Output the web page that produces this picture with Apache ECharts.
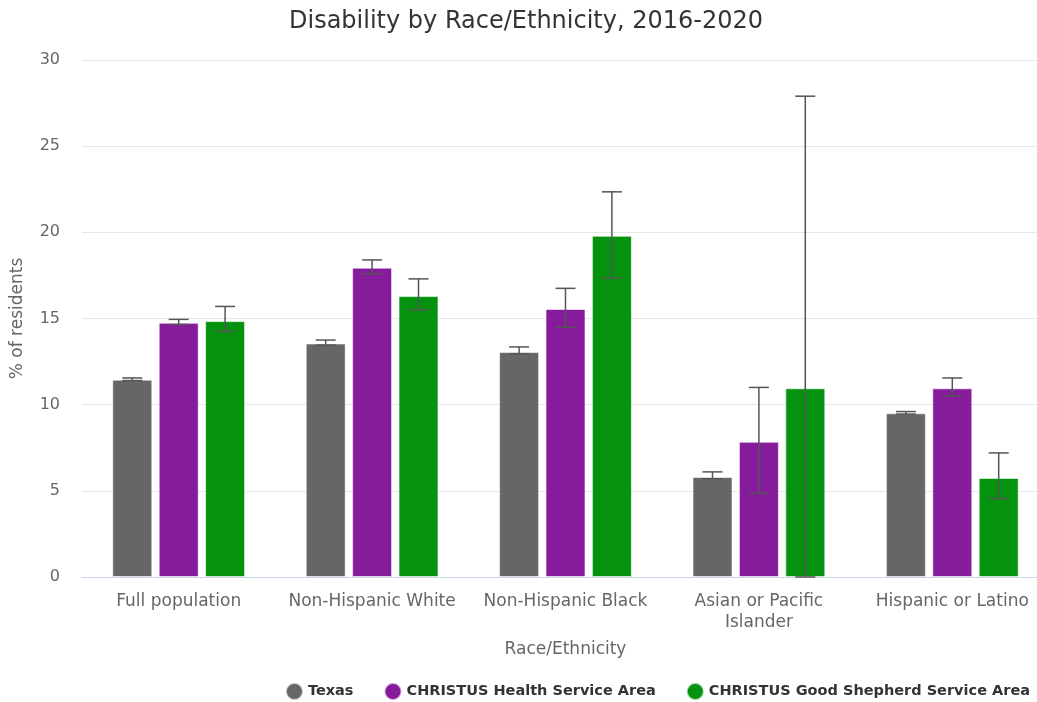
<!DOCTYPE html>
<html><head><meta charset="utf-8">
<script src="https://cdn.jsdelivr.net/npm/echarts@6/dist/echarts.min.js"></script>
<style>html,body{margin:0;padding:0;background:#fff}#c{width:1037px;height:702px}</style>
</head><body><div id="c"></div>
<script>
const categories = ['Full population','Non-Hispanic White','Non-Hispanic Black','Asian or Pacific\nIslander','Hispanic or Latino'];
const seriesNames = ['Texas','CHRISTUS Health Service Area','CHRISTUS Good Shepherd Service Area'];
const texas = [11.45, 13.55, 13.05, 5.8, 9.5];
const texasLow = [11.4, 13.45, 12.95, 5.7, 9.45];
const texasHigh = [11.55, 13.75, 13.35, 6.1, 9.6];
const health = [14.75, 17.95, 15.55, 7.85, 10.95];
const healthLow = [14.65, 17.6, 14.5, 4.85, 10.5];
const healthHigh = [14.95, 18.4, 16.75, 11.0, 11.55];
const shepherd = [14.85, 16.3, 19.8, 10.95, 5.75];
const shepherdLow = [14.25, 15.5, 17.35, 0, 4.55];
const shepherdHigh = [15.7, 17.3, 22.35, 27.9, 7.2];
const yTicks = [0, 5, 10, 15, 20, 25, 30];

const colors = ['#666666', '#861b9b', '#05930f'];
const values = [texas, health, shepherd];
const lows = [texasLow, healthLow, shepherdLow];
const highs = [texasHigh, healthHigh, shepherdHigh];
const BAR_W = 40, GAP = 0.16;
const FONT = 'DejaVu Sans';

const series = [];
values.forEach((v, i) => {
  series.push({
    name: seriesNames[i], type: 'bar', data: v, barWidth: BAR_W, barGap: (GAP*100)+'%',
    itemStyle: { color: colors[i], borderColor: 'rgba(255,255,255,0.6)', borderWidth: 1 }
  });
});
values.forEach((v, i) => {
  series.push({
    type: 'custom', name: 'err' + i, silent: true, z: 5,
    data: categories.map((c, k) => [k, lows[i][k], highs[i][k]]),
    renderItem: function (params, api) {
      const off = (i - 1) * BAR_W * (1 + GAP);
      const lo = api.coord([api.value(0), api.value(1)]);
      const hi = api.coord([api.value(0), api.value(2)]);
      const x = lo[0] + off, hw = 10;
      const st = { stroke: '#555555', lineWidth: 1.5 };
      return { type: 'group', children: [
        { type: 'line', shape: { x1: x, y1: lo[1], x2: x, y2: hi[1] }, style: st },
        { type: 'line', shape: { x1: x - hw, y1: lo[1], x2: x + hw, y2: lo[1] }, style: st },
        { type: 'line', shape: { x1: x - hw, y1: hi[1], x2: x + hw, y2: hi[1] }, style: st }
      ]};
    }
  });
});

const chart = echarts.init(document.getElementById('c'));
chart.setOption({
  animation: false,
  textStyle: { fontFamily: FONT },
  title: { text: 'Disability by Race/Ethnicity, 2016-2020', left: 284, top: 5,
    textStyle: { fontFamily: FONT, fontSize: 24, fontWeight: 'normal', color: '#333333' } },
  legend: { data: seriesNames, top: 677, right: 2, icon: 'circle', itemWidth: 17, itemHeight: 17, itemGap: 30,
    textStyle: { fontFamily: FONT, fontSize: 14.5, fontWeight: 'bold', color: '#333333' } },
  grid: { left: 82, width: 967, top: 60, bottom: 125, containLabel: false, outerBoundsMode: 'none' },
  xAxis: { type: 'category', data: categories, name: 'Race/Ethnicity', nameLocation: 'middle', nameGap: 64,
    nameTextStyle: { fontFamily: FONT, fontSize: 17, color: '#666666' },
    axisLine: { lineStyle: { color: '#ccd6eb' } }, axisTick: { show: false },
    axisLabel: { fontFamily: FONT, fontSize: 17, color: '#666666', margin: 14, interval: 0, lineHeight: 21 } },
  yAxis: { type: 'value', min: yTicks[0], max: yTicks[yTicks.length-1], interval: 5,
    name: '% of residents', nameLocation: 'middle', nameGap: 56,
    nameTextStyle: { fontFamily: FONT, fontSize: 17, color: '#666666' },
    splitLine: { lineStyle: { color: '#e6e6e6' } },
    axisLabel: { fontFamily: FONT, fontSize: 16, color: '#666666', margin: 22 } },
  series: series
});
</script></body></html>
